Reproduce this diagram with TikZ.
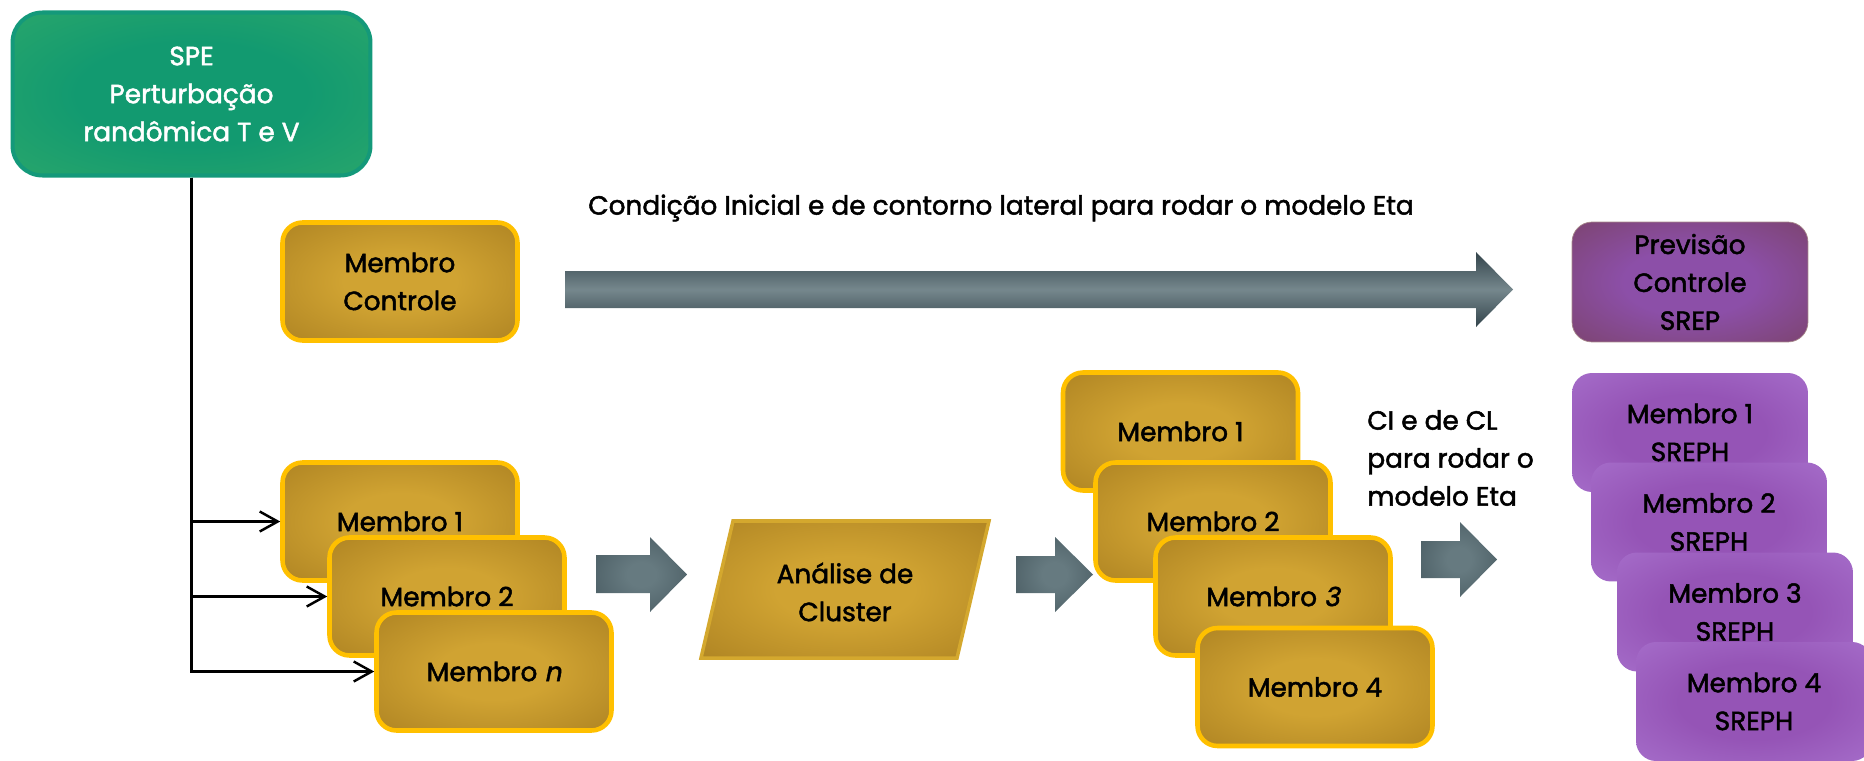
\documentclass[tikz,border=0pt]{standalone}
\usepackage{fontspec}
\setmainfont[FakeBold=1.8]{Poppins}
\newfontfamily\slantfont[FakeSlant=0.2,FakeBold=1.8]{Poppins}
\usetikzlibrary{arrows.meta}

\definecolor{goldin}{HTML}{D0A332}
\definecolor{goldmid}{HTML}{A47A1E}
\definecolor{goldout}{HTML}{74500E}
\definecolor{goldedge}{HTML}{FFC000}
\definecolor{clusteredge}{HTML}{D4A82E}
\definecolor{greenin}{HTML}{129A70}
\definecolor{greenmid}{HTML}{2FA96A}
\definecolor{greenout}{HTML}{62C264}
\definecolor{greenedge}{HTML}{14997A}
\definecolor{purpin}{HTML}{9554B6}
\definecolor{purpout}{HTML}{B88AE0}
\definecolor{previn}{HTML}{8C4FA8}
\definecolor{prevout}{HTML}{6E3A3E}
\definecolor{slatein}{HTML}{667A80}
\definecolor{slateout}{HTML}{33444B}

\pgfdeclareradialshading{goldglow}{\pgfpoint{0bp}{0bp}}{color(0bp)=(goldin); color(12bp)=(goldin); color(44bp)=(goldmid); color(70bp)=(goldout)}
\pgfdeclareradialshading{greenglow}{\pgfpoint{0bp}{0bp}}{color(0bp)=(greenin); color(16bp)=(greenin); color(42bp)=(greenmid); color(70bp)=(greenout)}
\pgfdeclareradialshading{purpglow}{\pgfpoint{0bp}{0bp}}{color(0bp)=(purpin); color(16bp)=(purpin); color(60bp)=(purpout)}
\pgfdeclareradialshading{prevglow}{\pgfpoint{0bp}{0bp}}{color(0bp)=(previn); color(14bp)=(previn); color(56bp)=(prevout)}
\pgfdeclareradialshading{slateglow}{\pgfpoint{0bp}{0bp}}{color(0bp)=(slatein); color(8bp)=(slatein); color(54bp)=(slateout)}

\newcommand\boxfont{\fontsize{15}{21.6}\selectfont}

\tikzset{
  spebox/.style={draw=greenedge, line width=2.3pt, rounded corners=0.6cm,
    shade, shading=greenglow, minimum width=7.16cm, minimum height=3.26cm,
    align=center, text=white, font=\boxfont},
  membro/.style={draw=goldedge, line width=2.6pt, rounded corners=0.4cm,
    shade, shading=goldglow, minimum width=4.7cm, minimum height=2.36cm,
    align=center, font=\boxfont},
  saida/.style={rounded corners=0.4cm, shade, shading=purpglow,
    minimum width=4.72cm, minimum height=2.38cm, align=center, font=\boxfont},
  prevbox/.style={draw=prevout!60!white, line width=0.4pt, rounded corners=0.4cm,
    shade, shading=prevglow, minimum width=4.72cm, minimum height=2.4cm,
    align=center, font=\boxfont},
  clusterbox/.style={draw=clusteredge, line width=2pt, shade, shading=goldglow},
  blockarrow/.style={shade, shading=slateglow},
  conn/.style={line width=1.4pt, -{Straight Barb[length=3.6mm,width=4mm]}}
}

\begin{document}
\begin{tikzpicture}[x=0.02cm, y=-0.02cm]
\useasboundingbox (0,0) rectangle (1864,761);

% perturbacao
\node[spebox] (spe) at (191.5,94) {SPE\\Perturbação\\randômica T e V};

% membros iniciais
\node[membro] (ctrl) at (400,281.5) {Membro\\Controle};
\node[membro] (ens1) at (400,521.5) {Membro 1};
\node[membro] (ens2) at (447,596.5) {Membro 2};
\node[membro] (ensn) at (494,671.5) {Membro {\slantfont n}};

\draw[conn] (spe.south) |- (ens1.west);
\draw[conn] (spe.south) |- (ens2.west);
\draw[conn] (spe.south) |- (ensn.west);

% seta longa
\node[font=\boxfont] (cond) at (1001,208) {Condição Inicial e de contorno lateral para rodar o modelo Eta};
\shade[top color=slateout, bottom color=slateout, middle color=slatein!90!white]
  (565,271) -- (1476,271) -- (1476,252) -- (1513,289.5) -- (1476,327) -- (1476,308) -- (565,308) -- cycle;

% cluster
\shade[blockarrow] (596,555) -- (650,555) -- (650,537) -- (687,574.5) -- (650,612) -- (650,593) -- (596,593) -- cycle;
\draw[clusterbox] (701,658) -- (733,521) -- (989,521) -- (957,658) -- cycle;
\node[font=\boxfont, align=center] (cluster) at (845,592) {Análise de\\Cluster};
\shade[blockarrow] (1016,556) -- (1055,556) -- (1055,537) -- (1093,574.5) -- (1055,612) -- (1055,593) -- (1016,593) -- cycle;

% membros escolhidos
\node[membro] (sel1) at (1180.5,431.5) {Membro 1};
\node[membro] (sel2) at (1213,521.5) {Membro 2};
\node[membro] (sel3) at (1273,596.5) {Membro {\slantfont 3}};
\node[membro] (sel4) at (1315,687) {Membro 4};

\node[font=\boxfont, align=left, anchor=west, inner sep=0pt] (cilab) at (1367,458) {CI e de CL\\para rodar o\\modelo Eta};
\shade[blockarrow] (1421,541) -- (1460,541) -- (1460,522) -- (1497,559.5) -- (1460,597) -- (1460,578) -- (1421,578) -- cycle;

% previsoes
\node[prevbox] (prev) at (1690,282) {Previsão\\Controle\\SREP};
\node[saida] (out1) at (1690,432.5) {Membro 1\\SREPH};
\node[saida] (out2) at (1709,522) {Membro 2\\SREPH};
\node[saida] (out3) at (1735,612) {Membro 3\\SREPH};
\node[saida] (out4) at (1754,701.5) {Membro 4\\SREPH};
\end{tikzpicture}
\end{document}
